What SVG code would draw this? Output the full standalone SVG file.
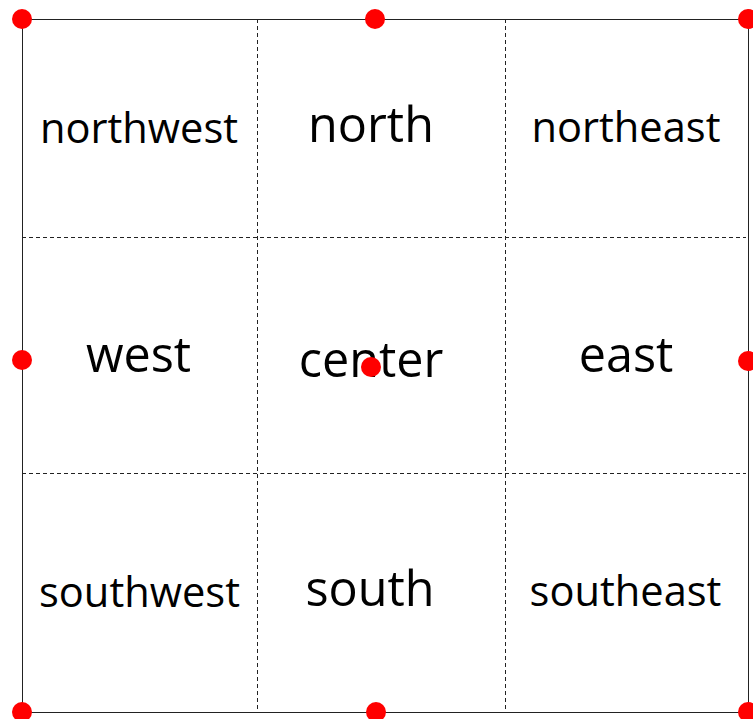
<svg xmlns="http://www.w3.org/2000/svg" width="753" height="719" viewBox="0 0 753 719">
<style>
.frame{fill:none;stroke:#222;stroke-width:1;shape-rendering:crispEdges}
.grid{stroke:#222;stroke-width:1;stroke-dasharray:4 3;fill:none;shape-rendering:crispEdges}
.dot{fill:#ff0000}
.lbl{font-family:"Open Sans","Noto Sans",sans-serif;fill:#000;text-anchor:middle}
.sm{font-size:41.6px}
.lg{font-size:48.5px}
</style>
<rect width="753" height="719" fill="#fff"/>
<g id="connectors">
<rect class="frame" x="22.5" y="19.5" width="726" height="693"/>
<line class="grid" x1="257.5" y1="19" x2="257.5" y2="712"/>
<line class="grid" x1="505.5" y1="19" x2="505.5" y2="712"/>
<line class="grid" x1="22" y1="237.5" x2="746" y2="237.5"/>
<line class="grid" x1="22" y1="473.5" x2="746" y2="473.5"/>
</g>
<g id="northwest"><text class="lbl sm" x="139" y="143">northwest</text></g>
<g id="north"><text class="lbl lg" x="371" y="142">north</text></g>
<g id="northeast"><text class="lbl sm" x="626" y="142">northeast</text></g>
<g id="west"><text class="lbl lg" x="138.5" y="372">west</text></g>
<g id="center"><text class="lbl lg" x="371" y="377">center</text></g>
<g id="east"><text class="lbl lg" x="626" y="372">east</text></g>
<g id="southwest"><text class="lbl sm" x="139.5" y="607">southwest</text></g>
<g id="south"><text class="lbl lg" x="370" y="606">south</text></g>
<g id="southeast"><text class="lbl sm" x="625.5" y="606">southeast</text></g>
<g id="anchors">
<circle class="dot" cx="22" cy="19" r="10"/>
<circle class="dot" cx="375" cy="19" r="10"/>
<circle class="dot" cx="748" cy="19" r="10"/>
<circle class="dot" cx="22" cy="360" r="10"/>
<circle class="dot" cx="371" cy="367" r="10"/>
<circle class="dot" cx="748" cy="361" r="10"/>
<circle class="dot" cx="22" cy="712" r="10"/>
<circle class="dot" cx="376" cy="712" r="10"/>
<circle class="dot" cx="748" cy="712" r="10"/>
</g>
</svg>
